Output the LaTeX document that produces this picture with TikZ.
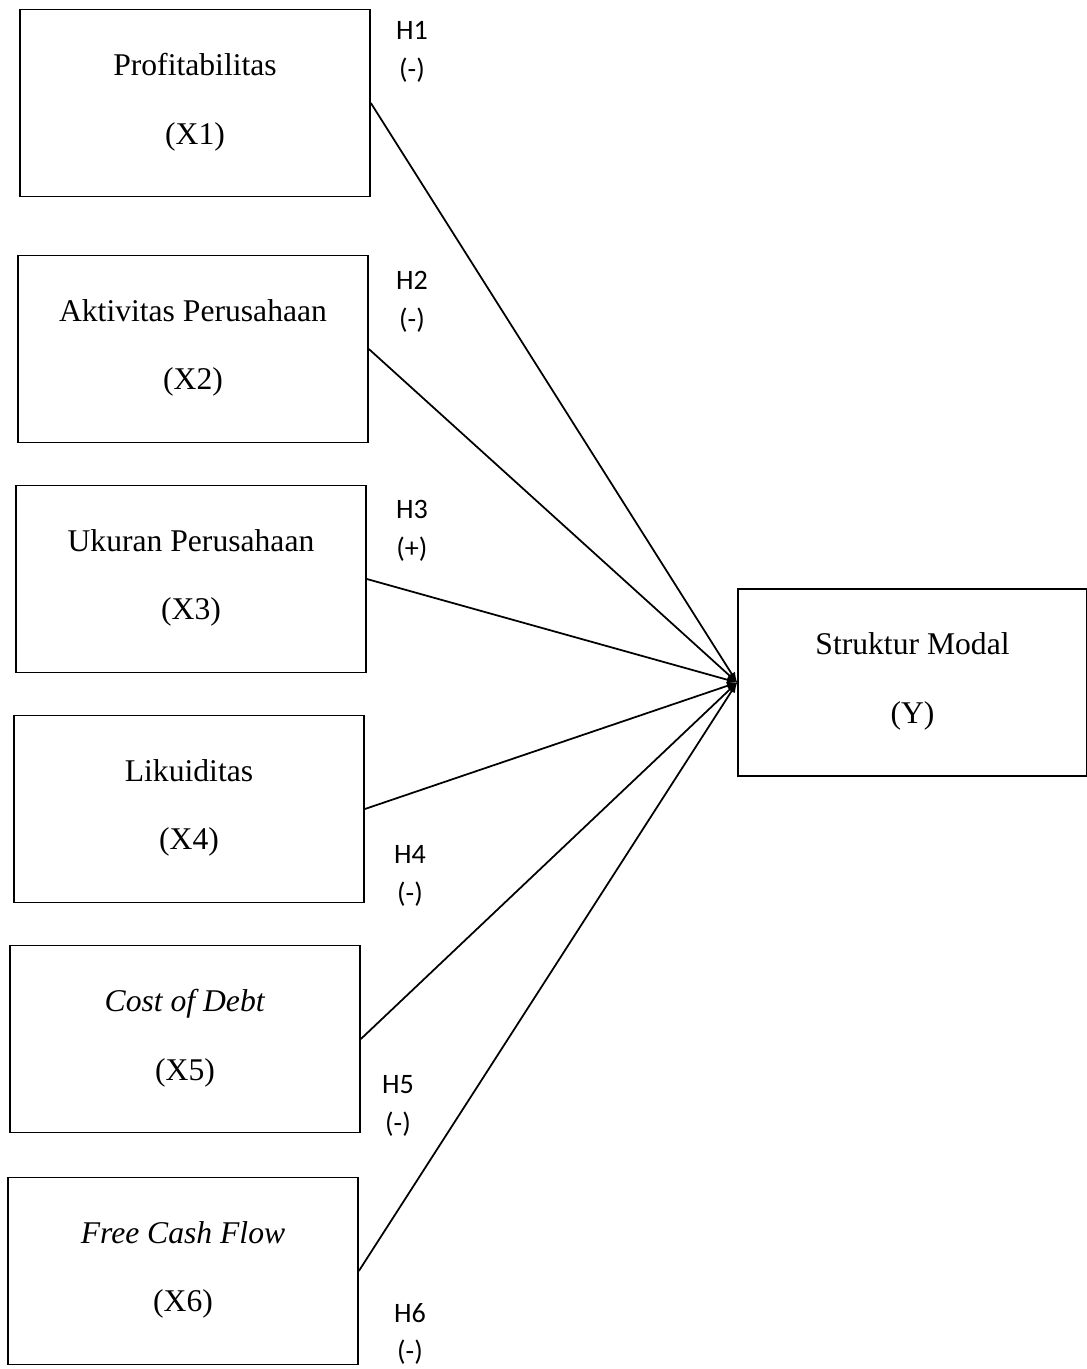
\documentclass[tikz,border=0pt]{standalone}
\usepackage{fontspec}
\setmainfont{Liberation Serif}
\newfontfamily\hypfont{Carlito}
\usetikzlibrary{positioning,arrows}

\begin{document}
\begin{tikzpicture}[x = .02cm, y = -.02cm,
    varbox/.style = {draw, line width = 1pt, minimum width = 7cm, minimum height = 3.74cm,
        align = center, font = \fontsize{18}{22}\selectfont, inner sep = 0pt},
    hyp/.style = {align = center, font = \hypfont\fontsize{16}{22}\selectfont},
    link/.style = {-latex, line width = 1pt}]
    \useasboundingbox (0,0) rectangle (1087,1369);
    % independent variables
    \node[varbox] (x1) at (195,103) {Profitabilitas\\[17pt](X1)\\[-17pt]\mbox{}};
    \node[varbox] (x2) at (193,349) {Aktivitas Perusahaan\\[17pt](X2)\\[-17pt]\mbox{}};
    \node[varbox] (x3) at (191,579) {Ukuran Perusahaan\\[17pt](X3)\\[-17pt]\mbox{}};
    \node[varbox] (x4) at (189,809) {Likuiditas\\[17pt](X4)\\[-17pt]\mbox{}};
    \node[varbox] (x5) at (185,1039) {\textit{Cost of Debt}\\[17pt](X5)\\[-17pt]\mbox{}};
    \node[varbox] (x6) at (183,1271) {\textit{Free Cash Flow}\\[17pt](X6)\\[-17pt]\mbox{}};
    % dependent variable
    \node[varbox, minimum width = 6.98cm] (y) at (912.5,682.5) {Struktur Modal\\[17pt](Y)\\[-17pt]\mbox{}};
    % hypotheses
    \node[hyp] (h1) at (412,52) {H1\\(-)};
    \node[hyp] (h2) at (412,302) {H2\\(-)};
    \node[hyp] (h3) at (412,531) {H3\\(+)};
    \node[hyp] (h4) at (410,876) {H4\\(-)};
    \node[hyp] (h5) at (398,1106) {H5\\(-)};
    \node[hyp] (h6) at (410,1334) {H6\\(-)};
    \foreach \v in {x1,x2,x3,x4,x5,x6}
        \draw[link] (\v.east) -- (y.west);
\end{tikzpicture}
\end{document}
